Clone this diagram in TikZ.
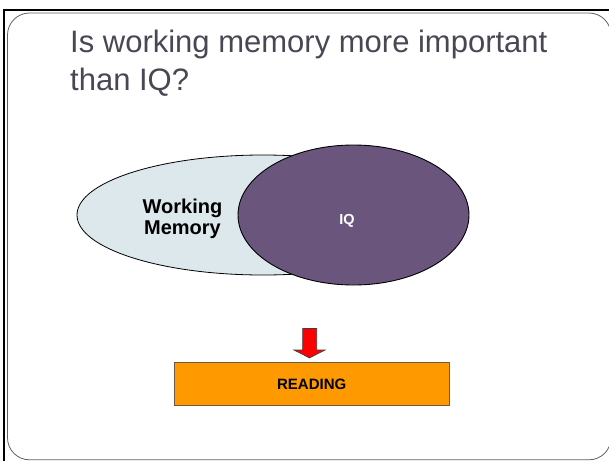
\documentclass[tikz,border=0pt]{standalone}
\usepackage{fontspec}
\setmainfont{Liberation Sans}
\usetikzlibrary{shapes.geometric}

\definecolor{titlegray}{RGB}{72,72,84}
\definecolor{framegray}{RGB}{96,96,96}
\definecolor{wmfill}{RGB}{221,232,236}
\definecolor{iqfill}{RGB}{106,85,125}
\definecolor{readfill}{RGB}{255,153,0}
\definecolor{readedge}{RGB}{110,90,70}
\definecolor{arrowred}{RGB}{255,0,0}

\tikzset{
  slidetitle/.style={font=\fontsize{31}{38}\selectfont, text=titlegray,
    align=left, inner sep=0pt, anchor=north west},
  blob/.style={ellipse, draw=black, line width=0.8pt, inner sep=0pt},
  blobtext/.style={font=\bfseries\fontsize{20}{21}\selectfont, align=center,
    inner sep=0pt},
  resultbox/.style={rectangle, fill=readfill, draw=readedge, line width=0.8pt,
    minimum width=274.7pt, minimum height=43.4pt, inner sep=0pt,
    font=\bfseries\fontsize{15}{18}\selectfont},
  blockarrow/.style={fill=arrowred, draw=black!75, line width=0.7pt,
    line join=miter}
}

\begin{document}
\begin{tikzpicture}[x=1pt, y=-1pt]
  \useasboundingbox (0,0) rectangle (609,461);

  % slide frame: black outer edge and rounded inner panel
  \draw[black, line width=2pt] (4,461) -- (4,10) -- (609,10);
  \draw[framegray, line width=0.8pt, rounded corners=22pt]
    (7.5,13) rectangle (611,459.8);

  % title
  \node[slidetitle] (title) at (70,29.4)
    {Is working memory more important\\than IQ?};

  % overlapping ellipses
  \node[blob, fill=wmfill, minimum width=372pt, minimum height=120pt]
    (wm) at (263,215) {};
  \node[blob, fill=iqfill, line width=0.9pt, minimum width=231pt,
    minimum height=140pt] (iq) at (353.5,215) {};
  \node[blobtext, anchor=north] (wmlabel) at (182.5,199.2)
    {Working\\Memory};
  \node[font=\bfseries\fontsize{14.5}{17}\selectfont, text=white,
    inner sep=0pt, anchor=base] (iqlabel) at (347,224.3) {IQ};

  % outcome box
  \node[resultbox] (reading) at (311.7,384) {READING};

  % block arrow pointing down onto the box
  \coordinate (tip) at ([yshift=4pt]reading.north -| 309.5,0);
  \draw[blockarrow] (302.7,328.5) -- (316.7,328.5) -- (316.7,350)
    -- (325,350) -- (tip) -- (294,350) -- (302.7,350) -- cycle;
\end{tikzpicture}
\end{document}
